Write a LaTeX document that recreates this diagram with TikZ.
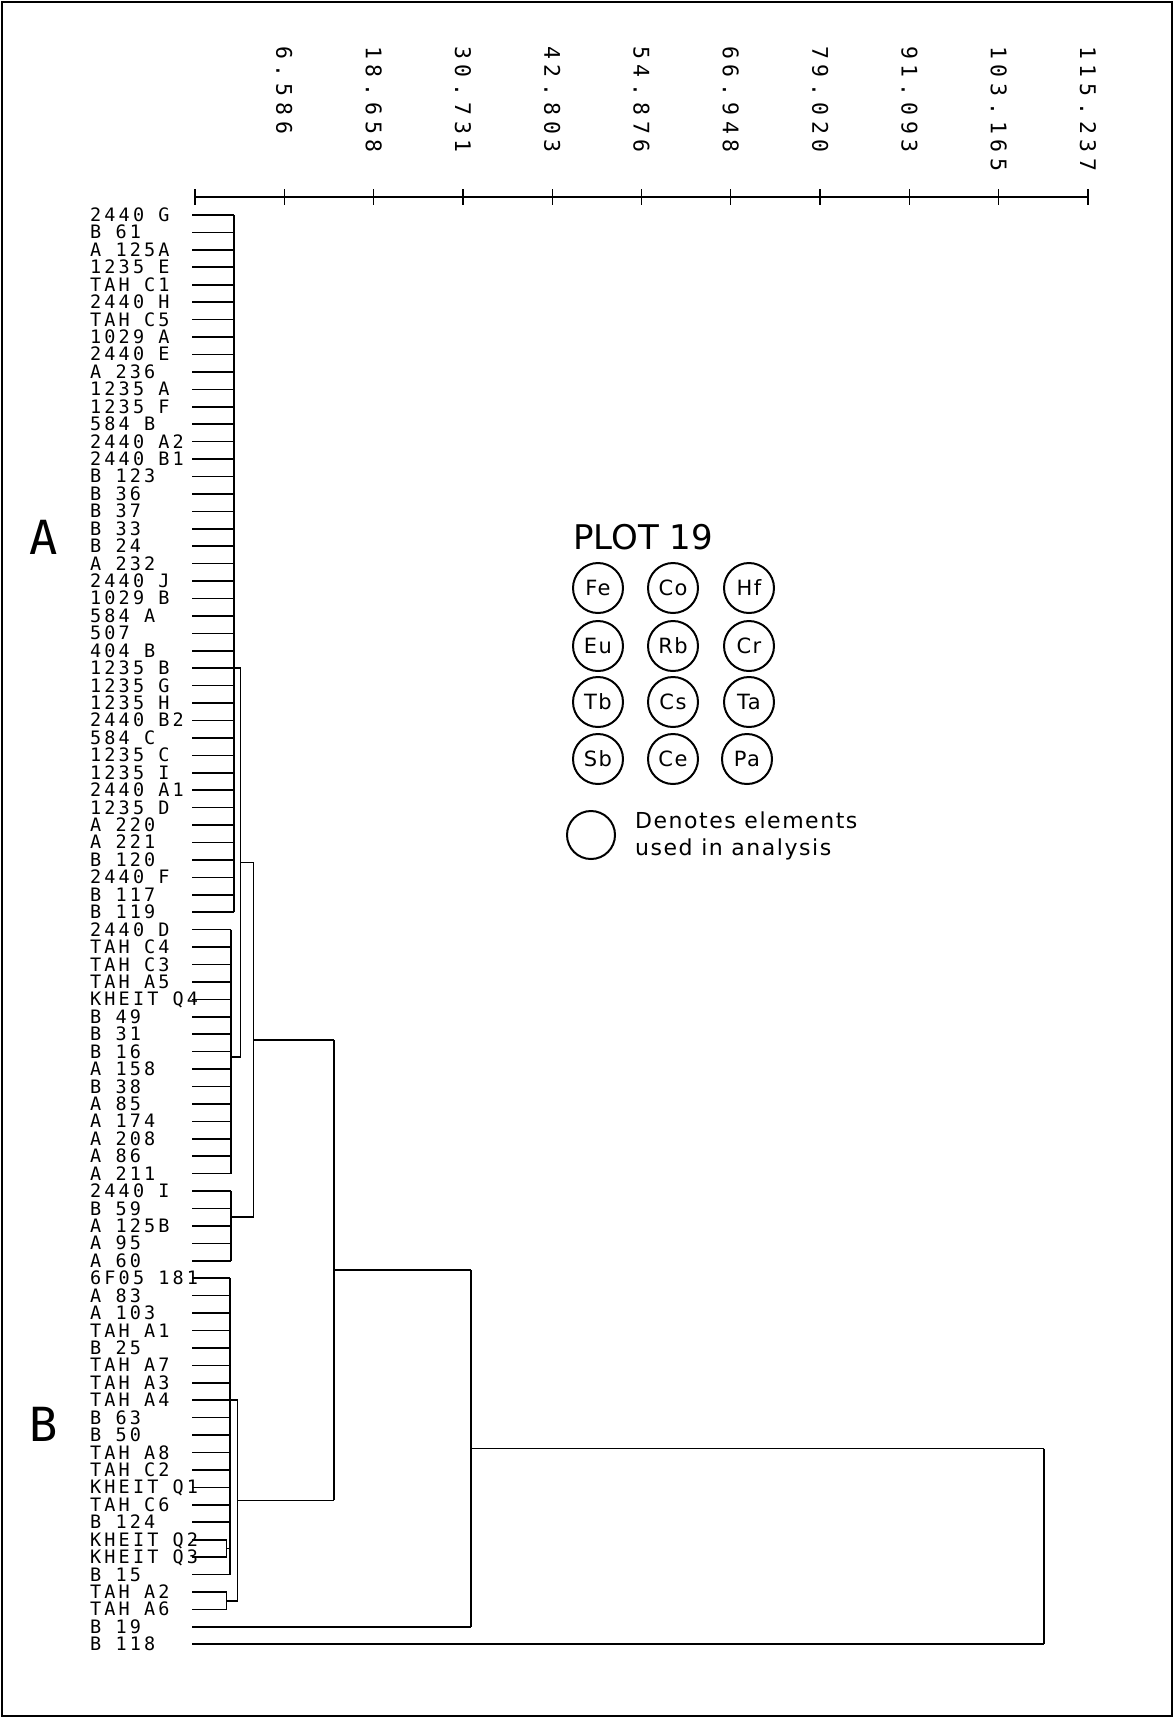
\documentclass[tikz,border=0pt]{standalone}
\usepackage{fontspec}
\newfontfamily\monoA[LetterSpace=17]{DejaVu Sans Mono}
\newfontfamily\monoB[LetterSpace=27]{DejaVu Sans Mono}
\newfontfamily\monoC{DejaVu Sans Mono}
\newfontfamily\sansA{DejaVu Sans}
\newfontfamily\sansB[LetterSpace=7]{DejaVu Sans}
\newcommand\gp{\kern14.2pt}
\tikzset{
  ln/.style={line width=1.6pt},
  leaf/.style={anchor=base west, inner sep=0pt, font=\monoA\fontsize{18.5}{18.5}\selectfont},
  axlab/.style={anchor=west, rotate=-90, inner sep=0pt, font=\monoB\fontsize{21.5}{21.5}\selectfont},
  elem/.style={circle, draw, line width=2pt, minimum size=50pt, inner sep=0pt, font=\sansB\fontsize{21}{21}\selectfont},
  keytext/.style={anchor=base west, inner sep=0pt, font=\sansB\fontsize{22}{22}\selectfont},
  biglet/.style={inner sep=0pt, font=\monoC\fontsize{47}{47}\selectfont}
}
\begin{document}
\begin{tikzpicture}[x=1pt,y=-1pt]
\useasboundingbox (0,0) rectangle (1173,1717);
\fill[white] (0,0) rectangle (1173,1717);
\draw[line width=2pt] (1.5,1.5) rectangle (1171.5,1715.5);

% axis
\foreach \k in {0,...,10} { \coordinate (t\k) at ({195+89.3*\k},197); }
\draw[ln] (t0) -- (t10);
\foreach \k in {0,...,10} { \draw[line width=1.3pt] ([yshift=8pt]t\k) -- ([yshift=-8pt]t\k); }
\foreach \k/\v in {1/6.586,2/18.658,3/30.731,4/42.803,5/54.876,6/66.948,7/79.020,8/91.093,9/103.165,10/115.237}
  { \node[axlab] (v\k) at ({195+89.3*\k},46) {\v}; }

% leaves
\foreach \i/\t in {1/2440\gp G, 2/B\gp 61, 3/A\gp 125A, 4/1235\gp E, 5/TAH\gp C1, 6/2440\gp H,
  7/TAH\gp C5, 8/1029\gp A, 9/2440\gp E, 10/A\gp 236, 11/1235\gp A, 12/1235\gp F, 13/584\gp B,
  14/2440\gp A2, 15/2440\gp B1, 16/B\gp 123, 17/B\gp 36, 18/B\gp 37, 19/B\gp 33, 20/B\gp 24,
  21/A\gp 232, 22/2440\gp J, 23/1029\gp B, 24/584\gp A, 25/507, 26/404\gp B, 27/1235\gp B,
  28/1235\gp G, 29/1235\gp H, 30/2440\gp B2, 31/584\gp C, 32/1235\gp C, 33/1235\gp I,
  34/2440\gp A1, 35/1235\gp D, 36/A\gp 220, 37/A\gp 221, 38/B\gp 120, 39/2440\gp F,
  40/B\gp 117, 41/B\gp 119, 42/2440\gp D, 43/TAH\gp C4, 44/TAH\gp C3, 45/TAH\gp A5,
  46/KHEIT\gp Q4, 47/B\gp 49, 48/B\gp 31, 49/B\gp 16, 50/A\gp 158, 51/B\gp 38, 52/A\gp 85,
  53/A\gp 174, 54/A\gp 208, 55/A\gp 86, 56/A\gp 211, 57/2440\gp I, 58/B\gp 59, 59/A\gp 125B,
  60/A\gp 95, 61/A\gp 60, 62/6F05\gp 181, 63/A\gp 83, 64/A\gp 103, 65/TAH\gp A1, 66/B\gp 25,
  67/TAH\gp A7, 68/TAH\gp A3, 69/TAH\gp A4, 70/B\gp 63, 71/B\gp 50, 72/TAH\gp A8, 73/TAH\gp C2,
  74/KHEIT\gp Q1, 75/TAH\gp C6, 76/B\gp 124, 77/KHEIT\gp Q2, 78/KHEIT\gp Q3, 79/B\gp 15,
  80/TAH\gp A2, 81/TAH\gp A6, 82/B\gp 19, 83/B\gp 118}
{
  \pgfmathsetmacro\yy{215+(\i-1)*17.43}
  \coordinate (s\i) at (192,\yy);
  \node[leaf] (L\i) at (90,{\yy+6.5}) {\t};
}

% level abscissae
\coordinate (xc1) at (234,0);
\coordinate (xc2) at (231,0);
\coordinate (xab) at (240.5,0);
\coordinate (xat) at (253.5,0);
\coordinate (xb1) at (230,0);
\coordinate (xq) at (226.5,0);
\coordinate (xbt) at (237.5,0);
\coordinate (xr1) at (334,0);
\coordinate (xr2) at (471,0);
\coordinate (xr3) at (1044,0);

% leaf lines
\foreach \i in {1,...,41} { \draw[ln] (s\i) -- (s\i -| xc1); }
\foreach \i in {42,...,61} { \draw[ln] (s\i) -- (s\i -| xc2); }
\foreach \i in {62,...,76} { \draw[ln] (s\i) -- (s\i -| xb1); }
\draw[ln] (s79) -- (s79 -| xb1);
\foreach \i in {77,78,80,81} { \draw[ln] (s\i) -- (s\i -| xq); }
\draw[ln] (s82) -- (s82 -| xr2);
\draw[ln] (s83) -- (s83 -| xr3);

% cluster A
\draw[ln] (s1 -| xc1) -- (s41 -| xc1);
\draw[ln] (s27 -| xc1) -- (s27 -| xab);
\draw[ln] (s42 -| xc2) -- (s56 -| xc2);
\coordinate (jc2) at (231,1057);
\draw[ln] (jc2) -- (jc2 -| xab);
\draw[ln] (s27 -| xab) -- (jc2 -| xab);
\coordinate (jab) at (240.5,862.6);
\draw[ln] (jab) -- (jab -| xat);
\draw[ln] (s57 -| xc2) -- (s61 -| xc2);
\coordinate (jc3) at (231,1217);
\draw[ln] (jc3) -- (jc3 -| xat);
\draw[ln] (jab -| xat) -- (jc3 -| xat);
\coordinate (jat) at (253.5,1039.8);
\draw[ln] (jat) -- (jat -| xr1);

% cluster B
\draw[ln] (s77 -| xq) -- (s78 -| xq);
\coordinate (jq) at (226.5,1548.4);
\draw[ln] (jq) -- (jq -| xb1);
\draw[ln] (s62 -| xb1) -- (s79 -| xb1);
\draw[ln] (s69 -| xb1) -- (s69 -| xbt);
\draw[ln] (s80 -| xq) -- (s81 -| xq);
\coordinate (jb2) at (226.5,1600.7);
\draw[ln] (jb2) -- (jb2 -| xbt);
\draw[ln] (s69 -| xbt) -- (jb2 -| xbt);
\coordinate (jbt) at (237.5,1500.4);
\draw[ln] (jbt) -- (jbt -| xr1);

% top joins
\draw[ln] (jat -| xr1) -- (jbt -| xr1);
\coordinate (jr1) at (334,1270.1);
\draw[ln] (jr1) -- (jr1 -| xr2);
\draw[ln] (jr1 -| xr2) -- (s82 -| xr2);
\coordinate (jr2) at (471,1448.5);
\draw[ln] (jr2) -- (jr2 -| xr3);
\draw[ln] (jr2 -| xr3) -- (s83 -| xr3);

% group letters
\node[biglet] (gA) at (44,537) {A};
\node[biglet] (gB) at (44,1424) {B};

% legend
\node[anchor=base west, inner sep=0pt, font=\sansA\fontsize{34}{34}\selectfont] (title) at (573,549) {PLOT 19};
\foreach \n/\x/\y in {Fe/598/588, Co/673/588, Hf/749/588, Eu/598/646, Rb/673/646, Cr/749/646,
  Tb/598/702, Cs/673/702, Ta/749/702, Sb/598/759, Ce/673/759, Pa/747/759}
  { \node[elem] (e\n) at (\x,\y) {\n}; }
\node[circle, draw, line width=2pt, minimum size=48pt, inner sep=0pt] (key) at (591,835) {};
\node[keytext] (k1) at (635,828) {Denotes elements};
\node[keytext] (k2) at (635,855) {used in analysis};
\end{tikzpicture}
\end{document}
